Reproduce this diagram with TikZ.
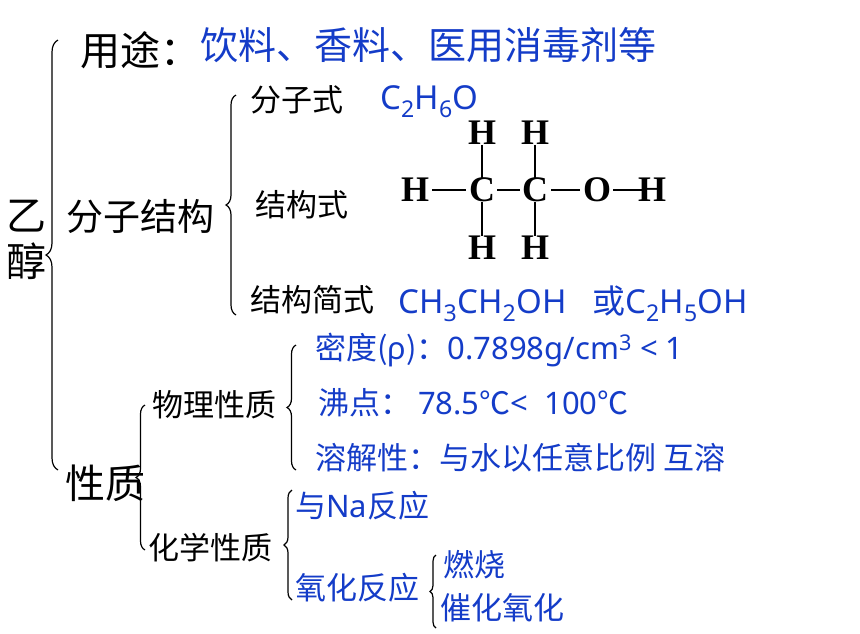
\documentclass[tikz,border=0pt]{standalone}
\usepackage{fontspec}
\setmainfont{Noto Sans CJK SC}
\newfontfamily\latin{Noto Sans}
\newfontfamily\serifb{Liberation Serif}
\usetikzlibrary{decorations.pathreplacing}
\definecolor{tblue}{RGB}{20,60,200}
\tikzset{
 lbl/.style={anchor=west,inner sep=0pt,text=black},
 bl/.style={anchor=west,inner sep=0pt,text=tblue},
 br/.style={draw=black,line width=1.2pt,decorate,decoration={brace,amplitude=#1}},
 atom/.style={inner sep=0pt,font=\serifb\bfseries\fontsize{36}{36}\selectfont},
 bond/.style={line width=1.5pt},
 mid/.style={font=\fontsize{31}{31}\selectfont}
}
\begin{document}
\begin{tikzpicture}[x=1pt,y=-1pt]
\useasboundingbox (0,0) rectangle (860,633);
% braces
\draw[br=12pt] (58,470) -- (58,40);
\draw[br=10pt] (236,315) -- (236,95);
\draw[br=9pt] (145,550) -- (145,405);
\draw[br=9pt] (296,470) -- (296,345);
\draw[br=8pt] (292,600) -- (292,490);
\draw[br=6pt] (436,628) -- (436,555);
% left
\node[lbl,font=\fontsize{40}{46}\selectfont,align=center] (yc) at (6,240) {乙\\醇};
\node[lbl,font=\fontsize{40}{40}\selectfont] (yt) at (80,50) {用途：};
\node[bl,font=\fontsize{38}{38}\selectfont] (ytv) at (200,45) {饮料、香料、医用消毒剂等};
\node[lbl,font=\fontsize{37}{37}\selectfont] (fz) at (66,216) {分子结构};
\node[lbl,mid] (fzs) at (250,100) {分子式};
\node[bl,font=\latin\fontsize{33}{33}\selectfont] (c2) at (380,102) {C\textsubscript{2}H\textsubscript{6}O};
\node[lbl,mid] (jgs) at (255,205) {结构式};
\node[lbl,mid] (jgjs) at (250,300) {结构简式};
\node[bl,font=\latin\fontsize{33}{33}\selectfont] (js) at (398,304) {CH\textsubscript{3}CH\textsubscript{2}OH\ \ \ {\fontspec{Noto Sans CJK SC}或}C\textsubscript{2}H\textsubscript{5}OH};
% structural formula
\node[atom] (h1) at (415,190) {H};
\node[atom] (c1) at (482,190) {C};
\node[atom] (c2a) at (535,190) {C};
\node[atom] (o) at (597,190) {O};
\node[atom] (h2) at (652,190) {H};
\node[atom] (h3) at (482,133) {H};
\node[atom] (h4) at (535,133) {H};
\node[atom] (h5) at (482,248) {H};
\node[atom] (h6) at (535,248) {H};
\draw[bond] (h1.east) ++(3,0) -- ([xshift=-3pt]c1.west);
\draw[bond] (c1.east) ++(2,0) -- ([xshift=-2pt]c2a.west);
\draw[bond] (c2a.east) ++(3,0) -- ([xshift=-3pt]o.west);
\draw[bond] (o.east) ++(2,0) -- ([xshift=4pt]h2.west);
\draw[bond] (h3.south) -- (c1.north);
\draw[bond] (h4.south) -- (c2a.north);
\draw[bond] (c1.south) -- (h5.north);
\draw[bond] (c2a.south) -- (h6.north);
% properties
\node[lbl,font=\fontsize{40}{40}\selectfont] (xz) at (65,483) {性质};
\node[lbl,mid] (wl) at (152,405) {物理性质};
\node[bl,mid] (md) at (315,350) {密度({\latin ρ})：{\latin 0.7898g/cm\textsuperscript{3} < 1}};
\node[bl,mid] (fd) at (318,403) {沸点： {\latin 78.5}℃{\latin < \ 100}℃};
\node[bl,mid] (rj) at (315,458) {溶解性：与水以任意比例 互溶};
\node[lbl,mid] (hx) at (148,548) {化学性质};
\node[bl,mid] (na) at (295,506) {与{\latin Na}反应};
\node[bl,mid] (yh) at (295,588) {氧化反应};
\node[bl,mid] (rs) at (443,565) {燃烧};
\node[bl,mid] (ch) at (440,608) {催化氧化};
\end{tikzpicture}
\end{document}
